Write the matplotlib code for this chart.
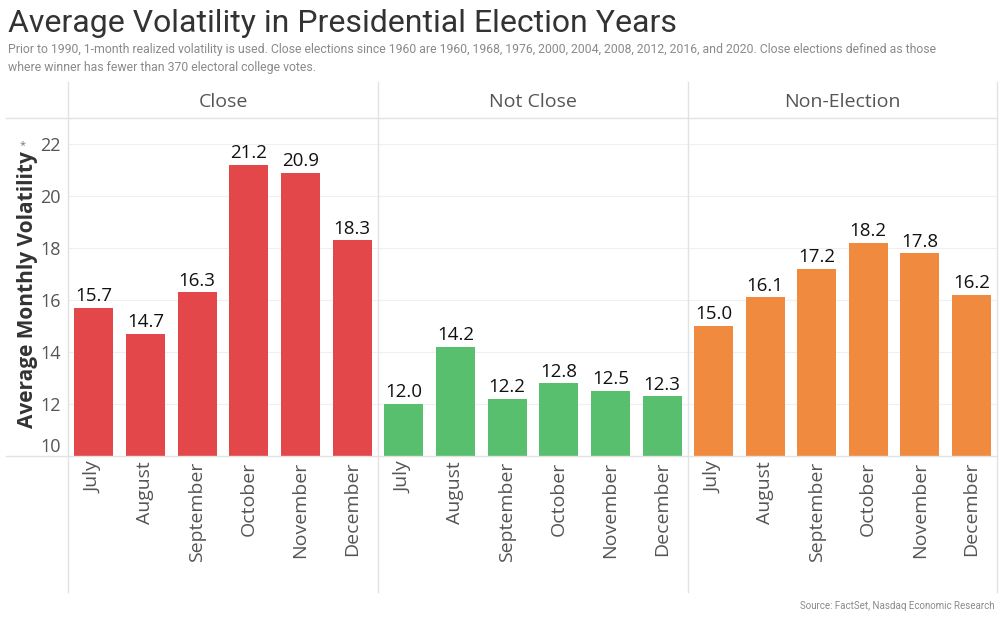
import matplotlib
matplotlib.use("Agg")
import matplotlib.pyplot as plt
from matplotlib.lines import Line2D

months = ["July", "August", "September", "October", "November", "December"]
groups = ["Close", "Not Close", "Non-Election"]
close = [15.7, 14.7, 16.3, 21.2, 20.9, 18.3]
not_close = [12.0, 14.2, 12.2, 12.8, 12.5, 12.3]
non_election = [15.0, 16.1, 17.2, 18.2, 17.8, 16.2]
yticks = [10, 12, 14, 16, 18, 20, 22]

colors = ["#E3474A", "#57BF6E", "#EF8A3E"]
W, H = 1008, 624
FONT = ["Open Sans", "DejaVu Sans"]
NARROW = ["Roboto", "DejaVu Sans"]

fig = plt.figure(figsize=(W / 100, H / 100), dpi=100)


def fx(px):
    return px / W


def fy(py):
    return 1 - py / H


edges = [68, 378, 688, 997]
top, base = 118, 456

for i, vals in enumerate([close, not_close, non_election]):
    ax = fig.add_axes([fx(edges[i]), fy(base), fx(edges[i + 1] - edges[i]), (base - top) / H])
    x = range(len(months))
    ax.bar(x, vals, width=0.75, bottom=0, color=colors[i], zorder=2)
    ax.set_xlim(-0.5, 5.5)
    ax.set_ylim(10, 23)
    for s in ax.spines.values():
        s.set_visible(False)
    for t in yticks[1:]:
        ax.axhline(t, color="#f0f0f0", lw=0.8, zorder=1)
    for xi, v in zip(x, vals):
        ax.text(xi, v + 0.1, f"{v:.1f}", ha="center", va="bottom",
                fontsize=13.5, color="#111111", family=FONT)
    ax.set_xticks(list(x))
    ax.set_xticklabels(months, rotation=90, fontsize=14, color="#555555", family=FONT)
    ax.tick_params(axis="x", length=0, pad=4)
    if i == 0:
        ax.set_yticks(yticks)
        ax.set_yticklabels([str(t) for t in yticks], fontsize=13, color="#555555", family=FONT)
        ax.tick_params(axis="y", length=0, pad=5)
        ax.get_yticklabels()[0].set_verticalalignment("bottom")
    else:
        ax.set_yticks([])
    fig.text(fx((edges[i] + edges[i + 1]) / 2), fy(102), groups[i], ha="center", va="center",
             fontsize=14, color="#555555", family=FONT)

# frame lines
for xe in edges:
    fig.add_artist(Line2D([fx(xe), fx(xe)], [fy(82), fy(592)], color="#e2e2e2", lw=1))
for ye in [top, base]:
    fig.add_artist(Line2D([fx(6), fx(997)], [fy(ye), fy(ye)], color="#e2e2e2", lw=1))

fig.text(fx(28), fy(290), "Average Monthly Volatility", rotation=90, ha="center", va="center",
         fontsize=15, fontweight="bold", color="#333333", family=FONT)
fig.text(fx(23), fy(146), "*", ha="center", va="center", fontsize=8, color="#777777", family=FONT)

fig.text(fx(8), fy(24), "Average Volatility in Presidential Election Years", ha="left", va="center",
         fontsize=23, color="#333333", family=NARROW)
fig.text(fx(8), fy(49), "Prior to 1990, 1-month realized volatility is used. Close elections since 1960 are 1960, 1968, 1976, 2000, 2004, 2008, 2012, 2016, and 2020. Close elections defined as those",
         ha="left", va="center", fontsize=8.85, color="#8a8a8a", family=NARROW)
fig.text(fx(8), fy(68), "where winner has fewer than 370 electoral college votes.",
         ha="left", va="center", fontsize=8.85, color="#8a8a8a", family=NARROW)
fig.text(fx(995), fy(606), "Source: FactSet, Nasdaq Economic Research", ha="right", va="center",
         fontsize=7, color="#8a8a8a", family=NARROW)

fig.savefig("out.png", dpi=100)
